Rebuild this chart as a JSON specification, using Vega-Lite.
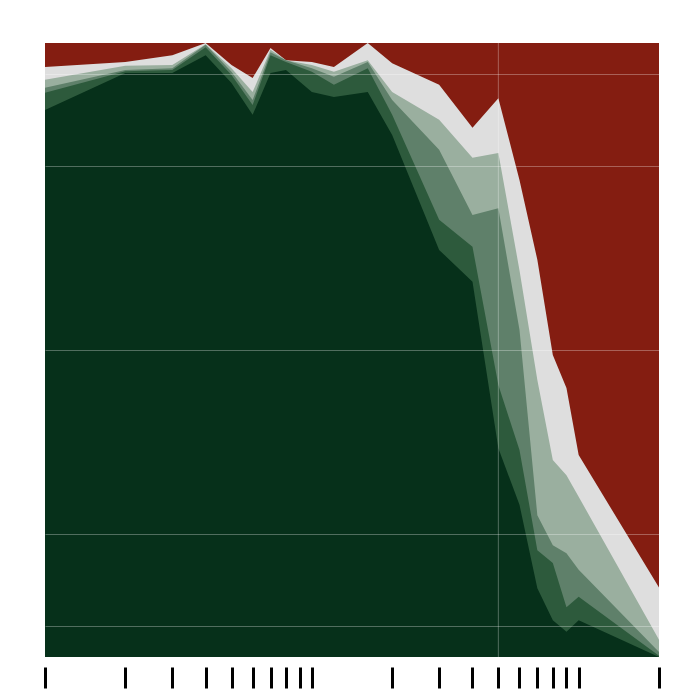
{
  "$schema": "https://vega.github.io/schema/vega-lite/v6.json",
  "width": 614,
  "height": 614,
  "autosize": "none",
  "padding": {"left": 45, "top": 43, "right": 41, "bottom": 43},
  "background": "white",
  "config": {"view": {"stroke": null, "fill": "#841d11"}},
  "data": {"values": [
    {"x": 1, "b1": 0.891, "b2": 0.919, "b3": 0.927, "b4": 0.940, "b5": 0.961},
    {"x": 2, "b1": 0.951, "b2": 0.954, "b3": 0.956, "b4": 0.963, "b5": 0.969},
    {"x": 3, "b1": 0.951, "b2": 0.956, "b3": 0.959, "b4": 0.964, "b5": 0.980},
    {"x": 4, "b1": 0.980, "b2": 0.993, "b3": 0.997, "b4": 0.998, "b5": 1.0},
    {"x": 5, "b1": 0.935, "b2": 0.948, "b3": 0.953, "b4": 0.959, "b5": 0.964},
    {"x": 6, "b1": 0.883, "b2": 0.899, "b3": 0.907, "b4": 0.920, "b5": 0.943},
    {"x": 7, "b1": 0.951, "b2": 0.980, "b3": 0.985, "b4": 0.989, "b5": 0.992},
    {"x": 8, "b1": 0.956, "b2": 0.969, "b3": 0.972, "b4": 0.972, "b5": 0.972},
    {"x": 10, "b1": 0.920, "b2": 0.953, "b3": 0.959, "b4": 0.964, "b5": 0.969},
    {"x": 12.1, "b1": 0.912, "b2": 0.932, "b3": 0.945, "b4": 0.953, "b5": 0.961},
    {"x": 16.2, "b1": 0.920, "b2": 0.959, "b3": 0.969, "b4": 0.972, "b5": 1.0},
    {"x": 20, "b1": 0.850, "b2": 0.883, "b3": 0.907, "b4": 0.920, "b5": 0.967},
    {"x": 30, "b1": 0.663, "b2": 0.712, "b3": 0.826, "b4": 0.875, "b5": 0.932},
    {"x": 40, "b1": 0.611, "b2": 0.668, "b3": 0.720, "b4": 0.813, "b5": 0.862},
    {"x": 50, "b1": 0.340, "b2": 0.443, "b3": 0.731, "b4": 0.821, "b5": 0.910},
    {"x": 60, "b1": 0.248, "b2": 0.337, "b3": 0.533, "b4": 0.630, "b5": 0.777},
    {"x": 70, "b1": 0.112, "b2": 0.174, "b3": 0.231, "b4": 0.451, "b5": 0.647},
    {"x": 80, "b1": 0.060, "b2": 0.153, "b3": 0.182, "b4": 0.321, "b5": 0.492},
    {"x": 90, "b1": 0.041, "b2": 0.081, "b3": 0.169, "b4": 0.296, "b5": 0.438},
    {"x": 100, "b1": 0.060, "b2": 0.098, "b3": 0.142, "b4": 0.261, "b5": 0.329},
    {"x": 200, "b1": 0.0, "b2": 0.002, "b3": 0.008, "b4": 0.028, "b5": 0.113}
  ]},
  "layer": [
    {"mark": {"type": "area", "color": "#dedede"},
     "encoding": {
       "x": {"field": "x", "type": "quantitative",
         "scale": {"type": "log", "domain": [1, 200], "nice": false},
         "axis": {"values": [1,2,3,4,5,6,7,8,9,10,20,30,40,50,60,70,80,90,100,200],
           "labels": false, "domain": false, "grid": false, "title": null,
           "tickColor": "black", "tickWidth": 3, "tickSize": 21, "offset": 10}},
       "y": {"field": "b5", "type": "quantitative", "stack": null,
         "scale": {"domain": [0, 1], "nice": false},
         "axis": {"values": [0.05, 0.2, 0.5, 0.8, 0.95], "labels": false, "ticks": false, "domain": false,
           "title": null, "grid": true, "gridColor": "white", "gridOpacity": 0.3, "gridWidth": 1, "zindex": 1}}}},
    {"mark": {"type": "area", "color": "#9aaf9f"},
     "encoding": {"x": {"field": "x", "type": "quantitative"}, "y": {"field": "b4", "type": "quantitative", "stack": null}}},
    {"mark": {"type": "area", "color": "#5f806a"},
     "encoding": {"x": {"field": "x", "type": "quantitative"}, "y": {"field": "b3", "type": "quantitative", "stack": null}}},
    {"mark": {"type": "area", "color": "#2d5a3c"},
     "encoding": {"x": {"field": "x", "type": "quantitative"}, "y": {"field": "b2", "type": "quantitative", "stack": null}}},
    {"mark": {"type": "area", "color": "#06301a"},
     "encoding": {"x": {"field": "x", "type": "quantitative"}, "y": {"field": "b1", "type": "quantitative", "stack": null}}},
    {"data": {"values": [{"x": 50}]},
     "mark": {"type": "rule", "color": "white", "opacity": 0.3, "strokeWidth": 1},
     "encoding": {"x": {"field": "x", "type": "quantitative"}}}
  ]
}
